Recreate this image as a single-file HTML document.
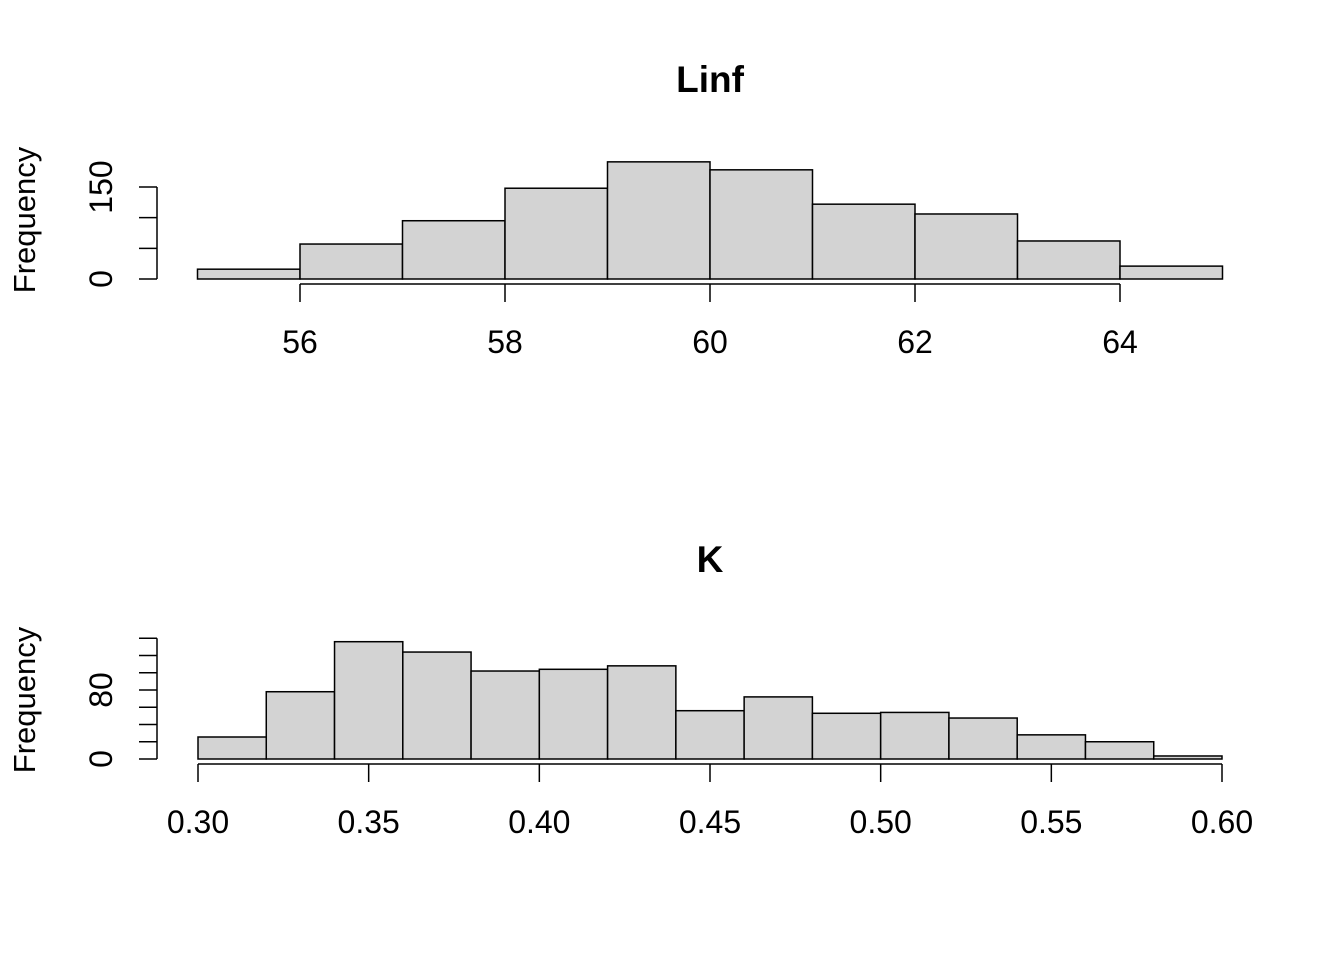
<!DOCTYPE html>
<html><head><meta charset="utf-8"><style>
body{margin:0;background:#fff}
text{font-family:"Liberation Sans",Arial,sans-serif}
</style></head><body>
<svg id="c" width="1344" height="960" xmlns="http://www.w3.org/2000/svg"></svg>
<script>
const linfBreaks=[55,56,57,58,59,60,61,62,63,64,65];
const linfCounts=[16,57,95,148,191,178,122,106,62,21];
const linfXTicks=[56,58,60,62,64];
const linfYTicks=[0,50,100,150];
const linfYLabels=["0","","","150"];
const kBreaks=[0.30,0.32,0.34,0.36,0.38,0.40,0.42,0.44,0.46,0.48,0.50,0.52,0.54,0.56,0.58,0.60];
const kCounts=[25.5,78,136,124,102,104,108,56,72,53,54,47.5,28,20,3.5];
const kXTicks=[0.30,0.35,0.40,0.45,0.50,0.55,0.60];
const kXLabels=["0.30","0.35","0.40","0.45","0.50","0.55","0.60"];
const kYTicks=[0,20,40,60,80,100,120,140];
const kYLabels=["0","","","","80","","",""];
const svg=document.getElementById('c');
const NS="http://www.w3.org/2000/svg";
function el(t,a){const e=document.createElementNS(NS,t);for(const k in a)e.setAttribute(k,a[k]);svg.appendChild(e);return e;}
function panel(p){
  const sx=v=>p.x0+(v-p.d0)*(p.x1-p.x0)/(p.d1-p.d0);
  const sy=v=>p.y0-v*p.ys;
  const t=el('text',{x:710,y:p.ty,'text-anchor':'middle','font-size':'37','font-weight':'bold'});
  t.textContent=p.title;
  
  
  p.counts.forEach((c,i)=>{
    const x=sx(p.breaks[i]),x2=sx(p.breaks[i+1]);
    const r=el('rect',{x:x,y:sy(c),width:x2-x,height:p.y0-sy(c),fill:'#d3d3d3',stroke:'#000','stroke-width':'1.5'});
    
    
  });
  const ax=el('line',{x1:sx(p.xt[0]),x2:sx(p.xt[p.xt.length-1]),y1:p.y0+5,y2:p.y0+5,stroke:'#000','stroke-width':'1.5'});
  
  
  p.xt.forEach((v,i)=>{
    el('line',{x1:sx(v),x2:sx(v),y1:p.y0+5,y2:p.y0+23,stroke:'#000','stroke-width':'1.5'});
    const l=el('text',{x:sx(v),y:p.y0+74,'text-anchor':'middle','font-size':'32'});
    l.textContent=p.xl[i];
    
    
  });
  const ay=el('line',{x1:157,x2:157,y1:sy(p.yt[0]),y2:sy(p.yt[p.yt.length-1]),stroke:'#000','stroke-width':'1.5'});
  
  
  p.yt.forEach((v,i)=>{
    el('line',{x1:139,x2:157,y1:sy(v),y2:sy(v),stroke:'#000','stroke-width':'1.5'});
    if(p.yl[i]){
      const l=el('text',{x:112,y:sy(v),'text-anchor':'middle','font-size':'32',transform:`rotate(-90 112 ${sy(v)})`});
      l.textContent=p.yl[i];
      
      
    }
  });
  const cy=p.y0-59;
  const yt=el('text',{x:35,y:cy,'text-anchor':'middle','font-size':'31',transform:`rotate(-90 35 ${cy})`});
  yt.textContent='Frequency';
  
  
}
panel({id:'linf',title:'Linf',ty:92,breaks:linfBreaks,counts:linfCounts,d0:55,d1:65,x0:197.5,x1:1222.5,y0:279,ys:92/150,xt:linfXTicks,xl:linfXTicks.map(String),yt:linfYTicks,yl:linfYLabels});
panel({id:'k',title:'K',ty:572,breaks:kBreaks,counts:kCounts,d0:0.30,d1:0.60,x0:198,x1:1222,y0:759,ys:69/80,xt:kXTicks,xl:kXLabels,yt:kYTicks,yl:kYLabels});
</script>
</body></html>
